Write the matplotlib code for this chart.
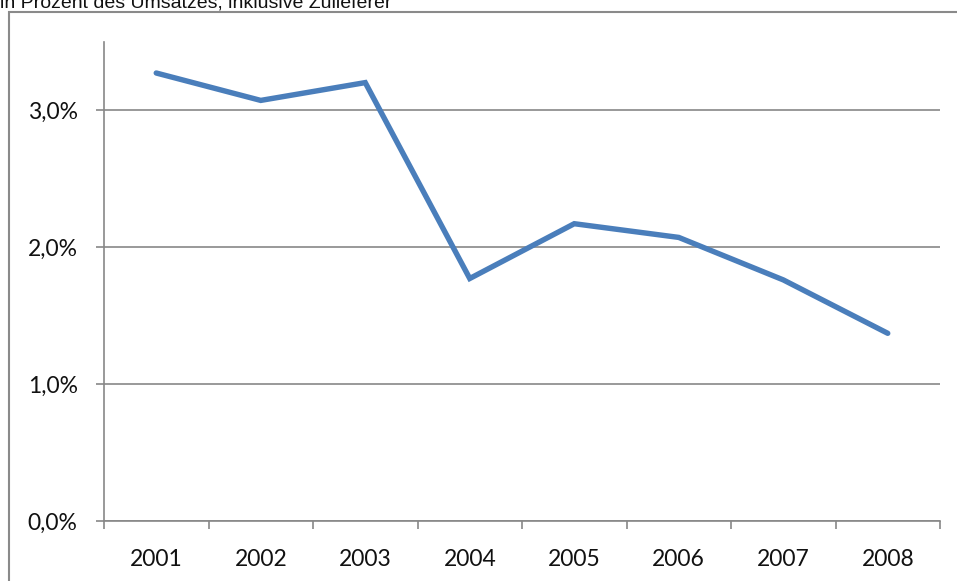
import matplotlib.pyplot as plt
from matplotlib.patches import Rectangle
from matplotlib.ticker import FixedLocator, FuncFormatter

# Anteil am Umsatz je Jahr (in %)
jahre = ['2001', '2002', '2003', '2004', '2005', '2006', '2007', '2008']
anteil = [3.27, 3.07, 3.20, 1.77, 2.17, 2.07, 1.76, 1.37]
y_ticks = [0, 1, 2, 3]

achsen_grau = '#878787'
linien_blau = '#4A7EBB'

fig = plt.figure(figsize=(9.57, 5.81), dpi=100)
ax = fig.add_axes([104 / 957, 1 - 521 / 581, (940 - 104) / 957, (521 - 41.5) / 581])

x = list(range(len(jahre)))
ax.plot(x, anteil, color=linien_blau, linewidth=3.9, solid_capstyle='round',
        solid_joinstyle='miter', zorder=3)

ax.set_xlim(-0.5, len(jahre) - 0.5)
ax.set_ylim(0, 3.5)

# Kategorien mittig, Teilstriche zwischen den Kategorien
ax.set_xticks(x)
ax.set_xticklabels(jahre)
ax.xaxis.set_minor_locator(FixedLocator([i - 0.5 for i in range(len(jahre) + 1)]))
ax.tick_params(axis='x', which='major', length=0, pad=20)
ax.tick_params(axis='x', which='minor', length=6, width=1.2, color=achsen_grau,
               direction='out')

ax.yaxis.set_major_locator(FixedLocator(y_ticks))
ax.yaxis.set_major_formatter(FuncFormatter(lambda v, p: f'{v:.1f}%'.replace('.', ',')))
ax.tick_params(axis='y', length=6, width=1.2, color=achsen_grau, pad=13)

for lbl in ax.get_xticklabels() + ax.get_yticklabels():
    lbl.set_fontfamily('Lato')
    lbl.set_fontsize(16.5)
    lbl.set_color('#111111')

ax.grid(axis='y', color=achsen_grau, linewidth=1.2)
ax.set_axisbelow(True)
for s in ['top', 'right']:
    ax.spines[s].set_visible(False)
for s in ['left', 'bottom']:
    ax.spines[s].set_color(achsen_grau)
    ax.spines[s].set_linewidth(1.2)

# Rahmen um das Diagramm
fig.patches.append(Rectangle((9 / 957, -0.1), 1.1, 1 - 12 / 581 + 0.1,
                             transform=fig.transFigure, fill=False,
                             edgecolor='#8a8a8a', linewidth=1.5))

fig.text(0.0, 1 - 8 / 581, 'in Prozent des Umsatzes, inklusive Zulieferer',
         fontfamily='Liberation Sans', fontsize=14, color='#111111',
         ha='left', va='baseline')

fig.savefig('out.png', dpi=100)
